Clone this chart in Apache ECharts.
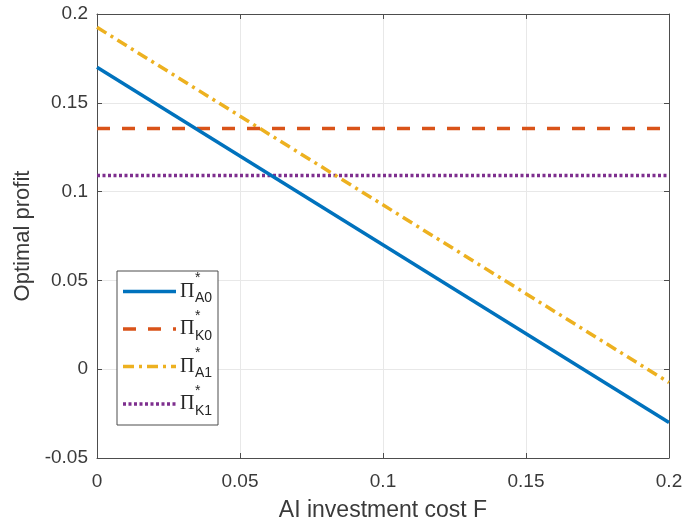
<!DOCTYPE html>
<html><head><meta charset="utf-8">
<script src="https://cdn.jsdelivr.net/npm/echarts@6/dist/echarts.min.js"></script>
<style>html,body{margin:0;padding:0;background:#fff}#c{width:687px;height:527px}</style>
</head><body><div id="c"></div>
<script>
var F = [0, 0.2];
var A0 = [0.17, -0.03];
var K0 = [0.1355, 0.1355];
var A1 = [0.1925, -0.0075];
var K1 = [0.109, 0.109];
var xTicks = [0, 0.05, 0.1, 0.15, 0.2];
var yTicks = [-0.05, 0, 0.05, 0.1, 0.15, 0.2];
var legendNames = ['A0', 'K0', 'A1', 'K1'];

var colors = ['#0072BD', '#D95319', '#EDB120', '#7E2F8E'];
var dashes = ['solid', [13, 12], [11, 5, 3, 5], [3, 2.5]];
var seriesData = [A0, K0, A1, K1];

var chart = echarts.init(document.getElementById('c'), null, {renderer: 'canvas'});
var font = 'Liberation Sans, Arial, sans-serif';
var txt = '#3a3a3a';
var axisBase = {
  type: 'value',
  axisLine: {show: true, onZero: false, lineStyle: {color: '#4d4d4d', width: 1}},
  axisTick: {show: true, inside: true, length: 5, lineStyle: {color: '#4d4d4d'}},
  splitLine: {show: true, lineStyle: {color: '#e8e8e8', width: 1}},
  axisLabel: {color: txt, fontSize: 19, fontFamily: font}
};
var option = {
  animation: false,
  backgroundColor: '#fff',
  grid: {left: 97, right: 18, top: 14, bottom: 68, containLabel: false},
  xAxis: [
    Object.assign({}, axisBase, {
      min: xTicks[0], max: xTicks[xTicks.length - 1], interval: 0.05,
      name: 'AI investment cost F', nameLocation: 'middle', nameGap: 41,
      nameTextStyle: {color: txt, fontSize: 23, fontFamily: font},
      axisLabel: Object.assign({}, axisBase.axisLabel, {margin: 14})
    }),
    Object.assign({}, axisBase, {
      position: 'top', min: xTicks[0], max: xTicks[xTicks.length - 1], interval: 0.05,
      axisLabel: {show: false}, splitLine: {show: false}
    })
  ],
  yAxis: [
    Object.assign({}, axisBase, {
      min: yTicks[0], max: yTicks[yTicks.length - 1], interval: 0.05,
      name: 'Optimal profit', nameLocation: 'middle', nameGap: 63,
      nameTextStyle: {color: txt, fontSize: 22, fontFamily: font},
      axisLabel: Object.assign({}, axisBase.axisLabel, {margin: 9})
    }),
    Object.assign({}, axisBase, {
      position: 'right', min: yTicks[0], max: yTicks[yTicks.length - 1], interval: 0.05,
      axisLabel: {show: false}, splitLine: {show: false}
    })
  ],
  series: seriesData.map(function (d, i) {
    return {
      type: 'line', name: legendNames[i],
      data: F.map(function (x, j) { return [x, d[j]]; }),
      showSymbol: false, symbol: 'none',
      lineStyle: {color: colors[i], width: 3.5, type: dashes[i], cap: 'butt'},
      z: 10 - i
    };
  })
};

// legend box drawn as graphic
var lg = [];
var lx = 117, ly = 271, lw = 101, lh = 154;
lg.push({type: 'rect', shape: {x: lx, y: ly, width: lw, height: lh},
  style: {fill: '#fff', stroke: '#4d4d4d', lineWidth: 1}, z: 100});
var rowY = [291.5, 329, 366.5, 404];
legendNames.forEach(function (n, i) {
  var y = rowY[i];
  lg.push({type: 'line', shape: {x1: 123, y1: y, x2: 176, y2: y},
    style: {stroke: colors[i], lineWidth: 3.5,
      lineDash: dashes[i] === 'solid' ? null : dashes[i], lineCap: 'butt'}, z: 101});
  lg.push({type: 'text', x: 180, y: y - 10,
    style: {text: 'Π', font: '20px "Liberation Serif", "DejaVu Serif", serif', fill: '#262626',
      textVerticalAlign: 'top'}, z: 101});
  lg.push({type: 'text', x: 195, y: y - 20,
    style: {text: '*', font: '14px "Liberation Sans", Arial, sans-serif', fill: '#262626',
      textVerticalAlign: 'top'}, z: 101});
  lg.push({type: 'text', x: 195, y: y,
    style: {text: n, font: '14px "Liberation Sans", Arial, sans-serif', fill: '#262626',
      textVerticalAlign: 'top'}, z: 101});
});
option.graphic = lg;
chart.setOption(option);
</script>
</body></html>
